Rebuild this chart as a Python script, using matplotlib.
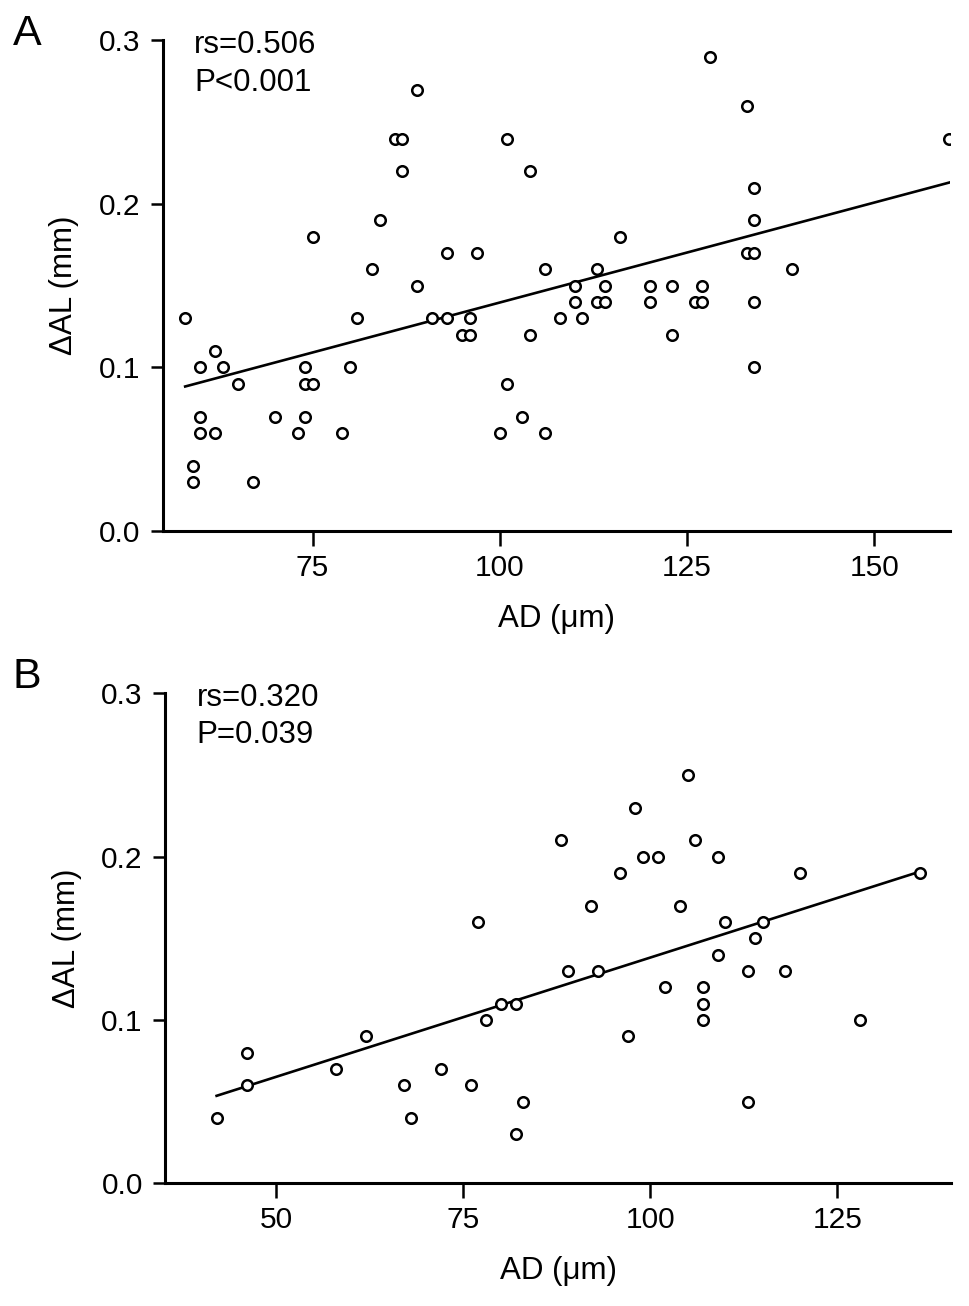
import numpy as np
import matplotlib
matplotlib.use('Agg')
import matplotlib.pyplot as plt

plt.rcParams['font.family'] = ['Liberation Sans', 'DejaVu Sans']

# Panel A: AD (um) vs delta AL (mm)
ad_a = [58, 59, 59, 60, 60, 60, 62, 62, 63, 65, 67, 70, 73, 74, 74, 74, 75, 75,
        79, 80, 81, 83, 84, 86, 87, 87, 89, 89, 91, 93, 93, 95, 96, 96, 97, 100,
        101, 101, 103, 104, 104, 106, 106, 108, 110, 110, 111, 113, 113, 114, 114,
        116, 120, 120, 123, 123, 126, 127, 127, 128, 133, 133, 134, 134, 134, 134,
        134, 139, 160]
dal_a = [0.13, 0.04, 0.03, 0.10, 0.07, 0.06, 0.11, 0.06, 0.10, 0.09, 0.03, 0.07,
         0.06, 0.10, 0.09, 0.07, 0.09, 0.18, 0.06, 0.10, 0.13, 0.16, 0.19, 0.24,
         0.24, 0.22, 0.27, 0.15, 0.13, 0.13, 0.17, 0.12, 0.12, 0.13, 0.17, 0.06,
         0.24, 0.09, 0.07, 0.22, 0.12, 0.16, 0.06, 0.13, 0.15, 0.14, 0.13, 0.16,
         0.14, 0.15, 0.14, 0.18, 0.15, 0.14, 0.15, 0.12, 0.14, 0.15, 0.14, 0.29,
         0.26, 0.17, 0.21, 0.19, 0.17, 0.14, 0.10, 0.16, 0.24]

# Panel B
ad_b = [42, 46, 46, 58, 62, 67, 68, 72, 76, 77, 78, 80, 82, 83, 82, 88, 89, 92,
        93, 96, 97, 98, 99, 101, 102, 104, 105, 106, 107, 107, 107, 109, 109, 110,
        113, 113, 114, 115, 118, 120, 128, 136]
dal_b = [0.04, 0.08, 0.06, 0.07, 0.09, 0.06, 0.04, 0.07, 0.06, 0.16, 0.10, 0.11,
         0.11, 0.05, 0.03, 0.21, 0.13, 0.17, 0.13, 0.19, 0.09, 0.23, 0.20, 0.20,
         0.12, 0.17, 0.25, 0.21, 0.12, 0.11, 0.10, 0.20, 0.14, 0.16, 0.13, 0.05,
         0.15, 0.16, 0.13, 0.19, 0.10, 0.19]

stats_a = ['rs=0.506', 'P<0.001']
stats_b = ['rs=0.320', 'P=0.039']
xticks_a = [75, 100, 125, 150]
xticks_b = [50, 75, 100, 125]
yticks = [0.0, 0.1, 0.2, 0.3]

W, H = 969, 1306
fig = plt.figure(figsize=(W / 100, H / 100), dpi=100)


def panel(rect, x, y, xlim, xticks, stats, letter, letter_y):
    ax = fig.add_axes(rect)
    x = np.array(x)
    y = np.array(y)
    ax.plot(x, y, 'o', ms=7.6, mfc='white', mec='black', mew=1.8,
            linestyle='none', zorder=3)
    # least squares fit line over the data range
    k, b = np.polyfit(x, y, 1)
    xs = np.array([x.min(), x.max()])
    ax.plot(xs, k * xs + b, color='black', lw=1.9, zorder=2)

    ax.set_xlim(*xlim)
    ax.set_ylim(0, 0.3)
    ax.set_xticks(xticks)
    ax.set_yticks(yticks)
    ax.set_yticklabels(['%.1f' % v for v in yticks])
    for s in ['top', 'right']:
        ax.spines[s].set_visible(False)
    for s in ['left', 'bottom']:
        ax.spines[s].set_linewidth(2.2)
    ax.tick_params(axis='x', length=10.5, width=1.8, labelsize=21.5, pad=6)
    ax.tick_params(axis='y', length=9, width=1.8, labelsize=21.5, pad=7)

    ax.set_xlabel('AD (\u03bcm)', fontsize=22.5)
    ax.xaxis.set_label_coords(0.5, -0.148)
    ax.set_ylabel('\u0394AL (mm)', fontsize=22.5)
    ax.yaxis.set_label_coords(-0.106, 0.5)

    ax.text(0.04, 0.9745, stats[0], transform=ax.transAxes, fontsize=22.5,
            va='baseline', ha='left')
    ax.text(0.04, 0.898, stats[1], transform=ax.transAxes, fontsize=22.5,
            va='baseline', ha='left')
    fig.text(13 / W, 1 - letter_y / H, letter, fontsize=31,
             va='baseline', ha='left')
    return ax


panel([162.7 / W, 1 - 531 / H, 787.3 / W, 490.5 / H], ad_a, dal_a,
      (55.0, 160.1), xticks_a, stats_a, 'A', 45)
panel([165 / W, 1 - 1183.3 / H, 786 / W, 490 / H], ad_b, dal_b,
      (35.1, 140.2), xticks_b, stats_b, 'B', 688)

fig.savefig('out.png', dpi=100)
